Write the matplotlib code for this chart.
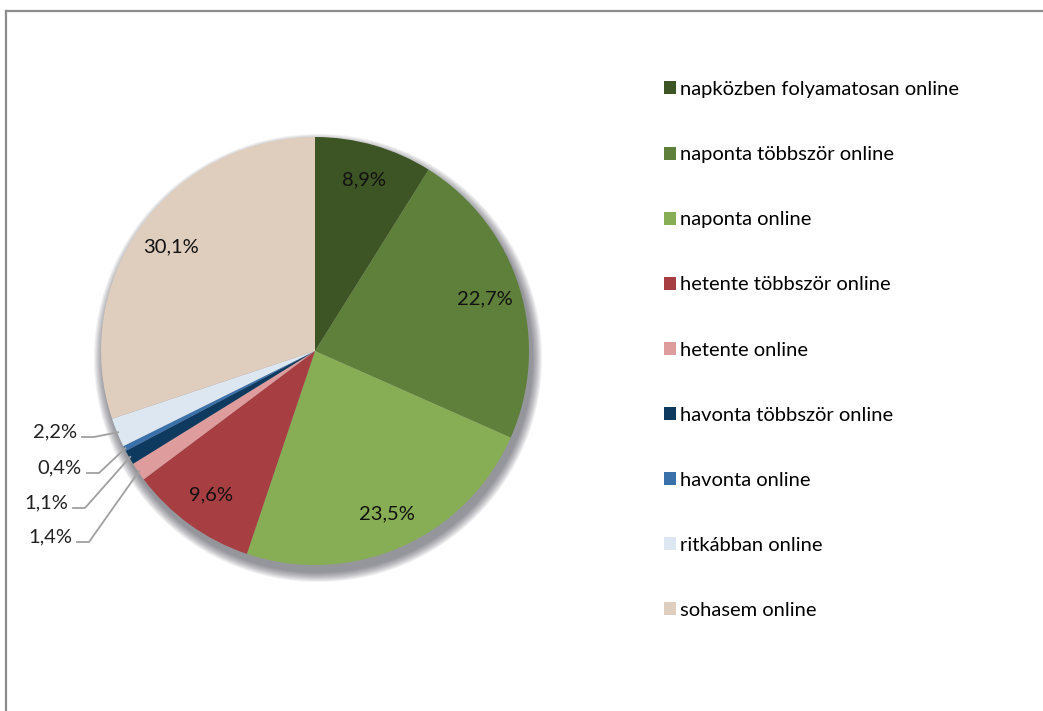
import numpy as np
import matplotlib
matplotlib.use("Agg")
from matplotlib import pyplot as plt
from matplotlib.lines import Line2D
from matplotlib.patches import Circle, Patch

plt.rcParams['font.family'] = ['Lato', 'DejaVu Sans']

categories = ["napközben folyamatosan online", "naponta többször online", "naponta online",
              "hetente többször online", "hetente online", "havonta többször online",
              "havonta online", "ritkábban online", "sohasem online"]
values = [8.9, 22.7, 23.5, 9.6, 1.4, 1.1, 0.4, 2.2, 30.1]
colors = ["#3d5424", "#5f803b", "#87ae55", "#a63e42", "#df9c9d", "#0f3a5f",
          "#3b71ab", "#dce7f1", "#dfcebe"]
labels = ["8,9%", "22,7%", "23,5%", "9,6%", "1,4%", "1,1%", "0,4%", "2,2%", "30,1%"]

W, H = 1043, 711
fig = plt.figure(figsize=(W / 100, H / 100), dpi=100)

# frame (only top and left edges visible)
fig.add_artist(Line2D([6 / W, 6 / W], [0, 1 - 10.5 / H], color="#8c8c8c", lw=1.6))
fig.add_artist(Line2D([6 / W, 1], [1 - 10.5 / H, 1 - 10.5 / H], color="#8c8c8c", lw=1.6))

# pie axes: center (315, 351) px, radius 214 px
R = 214
cx, cy = 315, 351
half = 250
ax = fig.add_axes([(cx - half) / W, (H - cy - half) / H, 2 * half / W, 2 * half / H])

# soft drop shadow
for i in range(10):
    ax.add_patch(Circle((3 / R, -7 / R), 1 + (10 - i) * 1.0 / R, color="#303040",
                        alpha=0.065, lw=0, zorder=0))

wedges, _ = ax.pie(values, colors=colors, startangle=90, counterclock=False, radius=1,
                   wedgeprops=dict(linewidth=0))
for w in wedges:
    w.set_zorder(2)
ax.set_xlim(-half / R, half / R)
ax.set_ylim(-half / R, half / R)
ax.set_aspect("equal")
ax.axis("off")

fs = 14.5
small = {4: (72, 537), 5: (68, 503), 6: (82, 468), 7: (77, 432)}
for i, w in enumerate(wedges):
    ang = np.deg2rad((w.theta1 + w.theta2) / 2)
    if i in small:
        tx, ty = small[i]
        px, py = (tx - cx) / R, (cy - ty) / R
        ax.text(px, py, labels[i], ha="right", va="center", fontsize=fs, color="#222222")
        ex, ey = 0.995 * np.cos(ang), 0.995 * np.sin(ang)
        x0 = px + 5 / R
        x1 = px + 17 / R
        yl = py - 5 / R
        ax.plot([x0, x1, ex], [yl, yl, ey], color="#a0a0a0", lw=1.3, zorder=3, clip_on=False)
    else:
        ax.text(0.83 * np.cos(ang), 0.83 * np.sin(ang), labels[i], ha="center", va="center",
                fontsize=fs, color="#111111", zorder=4)

# legend
handles = [Patch(facecolor=c, edgecolor="none") for c in colors]
fig.legend(handles, categories, loc="upper left", bbox_to_anchor=(664 / W, 1 - 81 / H),
           frameon=False, fontsize=fs, handlelength=0.62, handleheight=0.62,
           handletextpad=0.18, labelspacing=2.39, borderpad=0, borderaxespad=0)

fig.savefig("out.png", dpi=100)
